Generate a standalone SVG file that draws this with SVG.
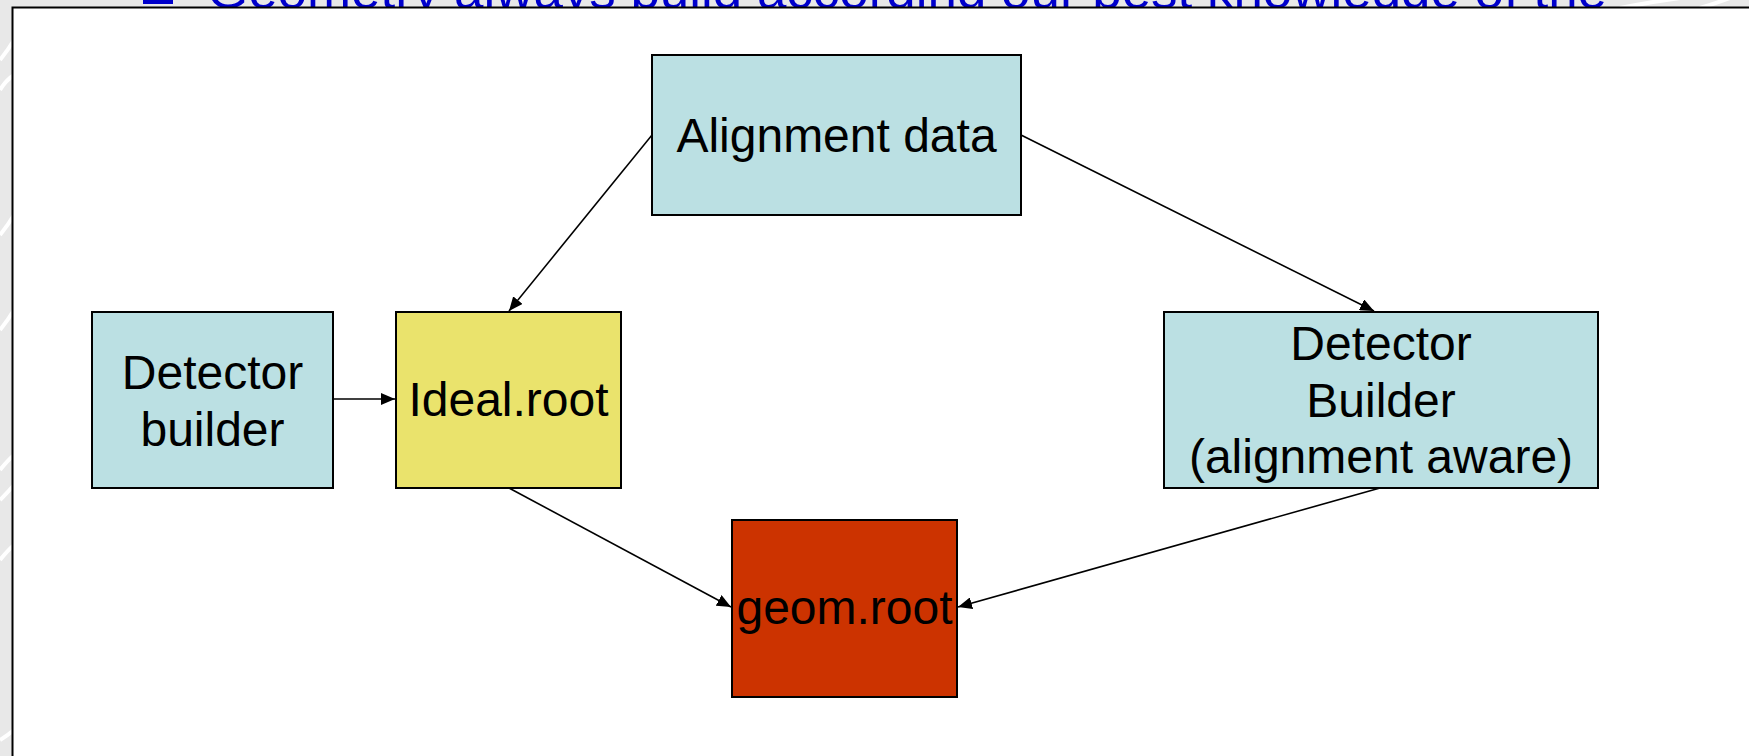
<svg xmlns="http://www.w3.org/2000/svg" width="1749" height="756" viewBox="0 0 1749 756">
  <style>
    .box { stroke: #000; stroke-width: 2; }
    .blue { fill: #BBE0E3; }
    .yellow { fill: #EAE36C; }
    .red { fill: #CC3300; }
    .lbl { font-family: "Liberation Sans", Arial, sans-serif; font-size: 48px; fill: #000; text-anchor: middle; }
    .conn { stroke: #000; stroke-width: 1.6; fill: none; marker-end: url(#arrow); }
    .swirl { stroke: #fff; stroke-width: 4; fill: none; }
  </style>
  <defs>
    <marker id="arrow" viewBox="0 0 14 12" refX="14" refY="6" markerWidth="14" markerHeight="12" markerUnits="userSpaceOnUse" orient="auto">
      <path d="M0,0 L14,6 L0,12 z" fill="#000"/>
    </marker>
  </defs>
  <g id="background">
    <rect x="0" y="0" width="1749" height="756" fill="#E8E8E8"/>
    <path class="swirl" d="M0,60 Q8,50 14,40"/>
    <path class="swirl" d="M0,90 Q6,80 14,75"/>
    <path class="swirl" d="M0,235 Q8,225 14,215"/>
    <path class="swirl" d="M0,330 Q8,320 14,310"/>
    <path class="swirl" d="M0,470 Q8,460 14,455"/>
    <path class="swirl" d="M0,500 Q8,492 14,485"/>
    <path class="swirl" d="M0,560 Q8,550 14,545"/>
    <path class="swirl" d="M0,740 Q8,735 14,730"/>
    <path class="swirl" d="M1620,8 Q1650,2 1680,-2"/>
    <path class="swirl" d="M1700,8 Q1720,2 1735,-4"/>
  </g>
  <g id="title">
    <rect x="143" y="-20" width="30" height="24" fill="#0000CC"/>
    <text x="207" y="8" font-family="Liberation Sans, Arial, sans-serif" font-size="52" fill="#0000CC" textLength="1400" lengthAdjust="spacingAndGlyphs">Geometry always build according our best knowledge of the</text>
  </g>
  <rect id="frame" x="12.5" y="7.5" width="1760" height="770" fill="#fff" stroke="#000" stroke-width="2"/>
  <g id="connectors">
    <line class="conn" x1="652" y1="135" x2="509" y2="311"/>
    <line class="conn" x1="1021" y1="135" x2="1374" y2="311"/>
    <line class="conn" x1="333" y1="399" x2="395" y2="399"/>
    <line class="conn" x1="509" y1="488" x2="731" y2="607"/>
    <line class="conn" x1="1380" y1="488" x2="958" y2="607"/>
  </g>
  <g id="alignment-data">
    <rect class="box blue" x="652" y="55" width="369" height="160"/>
    <text class="lbl" x="836.5" y="152">Alignment data</text>
  </g>
  <g id="detector-builder">
    <rect class="box blue" x="92" y="312" width="241" height="176"/>
    <text class="lbl" x="212.5" y="389">Detector</text>
    <text class="lbl" x="212.5" y="446">builder</text>
  </g>
  <g id="ideal-root">
    <rect class="box yellow" x="396" y="312" width="225" height="176"/>
    <text class="lbl" x="508.5" y="416">Ideal.root</text>
  </g>
  <g id="detector-builder-aligned">
    <rect class="box blue" x="1164" y="312" width="434" height="176"/>
    <text class="lbl" x="1381" y="360">Detector</text>
    <text class="lbl" x="1381" y="417">Builder</text>
    <text class="lbl" x="1381" y="473">(alignment aware)</text>
  </g>
  <g id="geom-root">
    <rect class="box red" x="732" y="520" width="225" height="177"/>
    <text class="lbl" x="844.5" y="624">geom.root</text>
  </g>
</svg>
